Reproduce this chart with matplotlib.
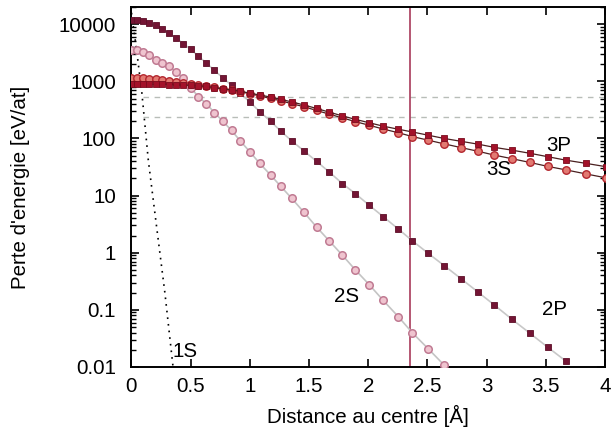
import matplotlib
matplotlib.use("Agg")
import matplotlib.pyplot as plt
from matplotlib.ticker import LogLocator, FixedLocator, NullFormatter

plt.rcParams['font.family'] = ['Liberation Sans', 'DejaVu Sans']

# radial grid (Å)
r_grid = [0.000, 0.045, 0.096, 0.149, 0.203, 0.259, 0.317, 0.376, 0.437, 0.500,
          0.565, 0.632, 0.701, 0.772, 0.845, 0.920, 0.998, 1.083, 1.175, 1.260,
          1.352, 1.458, 1.563, 1.672, 1.782, 1.891, 2.009, 2.127, 2.254, 2.372,
          2.506, 2.641, 2.784, 2.928, 3.062, 3.214, 3.366, 3.517, 3.669, 3.837,
          4.010]

loss_2P = [12020, 11890, 11480, 10470, 9550, 8320, 6920, 5750, 4570, 3630,
           2750, 2090, 1550, 1150, 851, 617, 437, 295, 200, 135,
           91.2, 60.3, 39.8, 25.7, 16.2, 10.8, 6.76, 4.27, 2.60, 1.62,
           0.977, 0.596, 0.351, 0.204, 0.123, 0.0684, 0.0389, 0.0221, 0.0127]

loss_2S = [3550, 3510, 3310, 2880, 2400, 2090, 1820, 1480, 1150, 776,
           537, 407, 282, 200, 138, 90.2, 58.9, 36.7, 22.9, 14.6,
           9.02, 5.07, 2.82, 1.60, 0.902, 0.501, 0.275, 0.146, 0.0759, 0.0398,
           0.0209, 0.0108]

loss_3P = [900, 900, 898, 895, 890, 885, 878, 870, 862, 852,
           838, 813, 776, 741, 708, 668, 624, 575, 531, 484,
           437, 385, 335, 288, 248, 216, 188, 164, 145, 130,
           114, 100, 89.1, 79.4, 70.0, 62.4, 55.0, 47.9, 41.7, 36.7,
           32.0]

loss_3S = [1150, 1150, 1130, 1110, 1080, 1050, 1010, 970, 930, 895,
           861, 822, 785, 741, 700, 653, 610, 556, 501, 457,
           407, 359, 309, 266, 229, 197, 170, 146, 126, 108,
           93.3, 80.4, 69.2, 59.6, 51.3, 44.2, 38.0, 32.4, 28.2, 24.0,
           20.4]

r_1S = [0.00, 0.04, 0.088, 0.142, 0.212, 0.282, 0.35]
loss_1S = [15800, 3980, 617, 41.7, 2.86, 0.20, 0.0105]

hlines = [525, 240]
vline_x = 2.35

xticks = [0, 0.5, 1, 1.5, 2, 2.5, 3, 3.5, 4]
xticklabels = ['0', '0.5', '1', '1.5', '2', '2.5', '3', '3.5', '4']
yticks = [0.01, 0.1, 1, 10, 100, 1000, 10000]
yticklabels = ['0.01', '0.1', '1', '10', '100', '1000', '10000']

fig = plt.figure(figsize=(6.11, 4.34), dpi=100)
ax = fig.add_axes([0.2152, 0.1544, 0.775, 0.8295])

fs = 14.8

for h in hlines:
    ax.plot([0.1, 4.0], [h, h], ls=(0, (4, 4)), color='#b8bdb8', lw=1.0, zorder=1)

ax.axvline(vline_x, color='#a83a5a', lw=1.2, zorder=2)

ax.plot(r_1S, loss_1S, ls=(0, (1, 3)), color='black', lw=1.2, zorder=2)

n2s = len(loss_2S)
ax.plot(r_grid[:n2s], loss_2S, '-', color='#c4c4c4', lw=1.2, zorder=3)
ax.plot(r_grid[:n2s], loss_2S, 'o', ms=5.4, mfc='#efc4cf', mec='#c07a92', mew=1.1,
        ls='none', zorder=4)

n2p = len(loss_2P)
ax.plot(r_grid[:n2p], loss_2P, '-', color='#c8c8c8', lw=1.2, zorder=3)
ax.plot(r_grid[:n2p], loss_2P, 's', ms=5.0, mfc='#731534', mec='#5e0f28', mew=0.6,
        ls='none', zorder=5)

ax.plot(r_grid, loss_3S, '-', color='#4a2020', lw=0.9, zorder=6)
ax.plot(r_grid, loss_3S, 'o', ms=5.4, mfc='#e27a72', mec='#b3262e', mew=1.0,
        ls='none', zorder=6)

ax.plot(r_grid, loss_3P, '-', color='#4a2020', lw=0.9, zorder=7)
ax.plot(r_grid, loss_3P, 's', ms=5.0, mfc='#a3122a', mec='#7a0c1e', mew=0.6,
        ls='none', zorder=7)

ax.text(0.45, 10**-1.73, '1S', fontsize=fs, ha='center', va='center')
ax.text(1.815, 10**-0.77, '2S', fontsize=fs, ha='center', va='center')
ax.text(3.57, 10**-1.0, '2P', fontsize=fs, ha='center', va='center')
ax.text(3.61, 10**1.885, '3P', fontsize=fs, ha='center', va='center')
ax.text(3.10, 10**1.45, '3S', fontsize=fs, ha='center', va='center')

ax.set_yscale('log')
ax.set_xlim(0, 4)
ax.set_ylim(0.01, 20000)

ax.xaxis.set_major_locator(FixedLocator(xticks))
ax.set_xticklabels(xticklabels)
ax.yaxis.set_major_locator(FixedLocator(yticks))
ax.set_yticklabels(yticklabels)
ax.yaxis.set_minor_locator(LogLocator(base=10, subs=[2, 3, 4, 5, 6, 7, 8, 9], numticks=20))
ax.yaxis.set_minor_formatter(NullFormatter())

ax.tick_params(axis='both', which='major', direction='in', length=6, width=1.2,
               top=True, right=True, labelsize=fs, colors='black')
ax.tick_params(axis='x', which='major', pad=7)
ax.tick_params(axis='y', which='major', pad=11)
ax.tick_params(axis='y', which='minor', direction='in', length=3.5, width=1.0,
               right=True)
for s in ax.spines.values():
    s.set_linewidth(1.4)

ax.set_xlabel('Distance au centre [Å]', fontsize=fs)
ax.set_ylabel("Perte d'energie [eV/at]", fontsize=fs)
ax.xaxis.set_label_coords(0.5, -0.105)
ax.yaxis.set_label_coords(-0.214, 0.5)

fig.savefig('out.png', dpi=100)
